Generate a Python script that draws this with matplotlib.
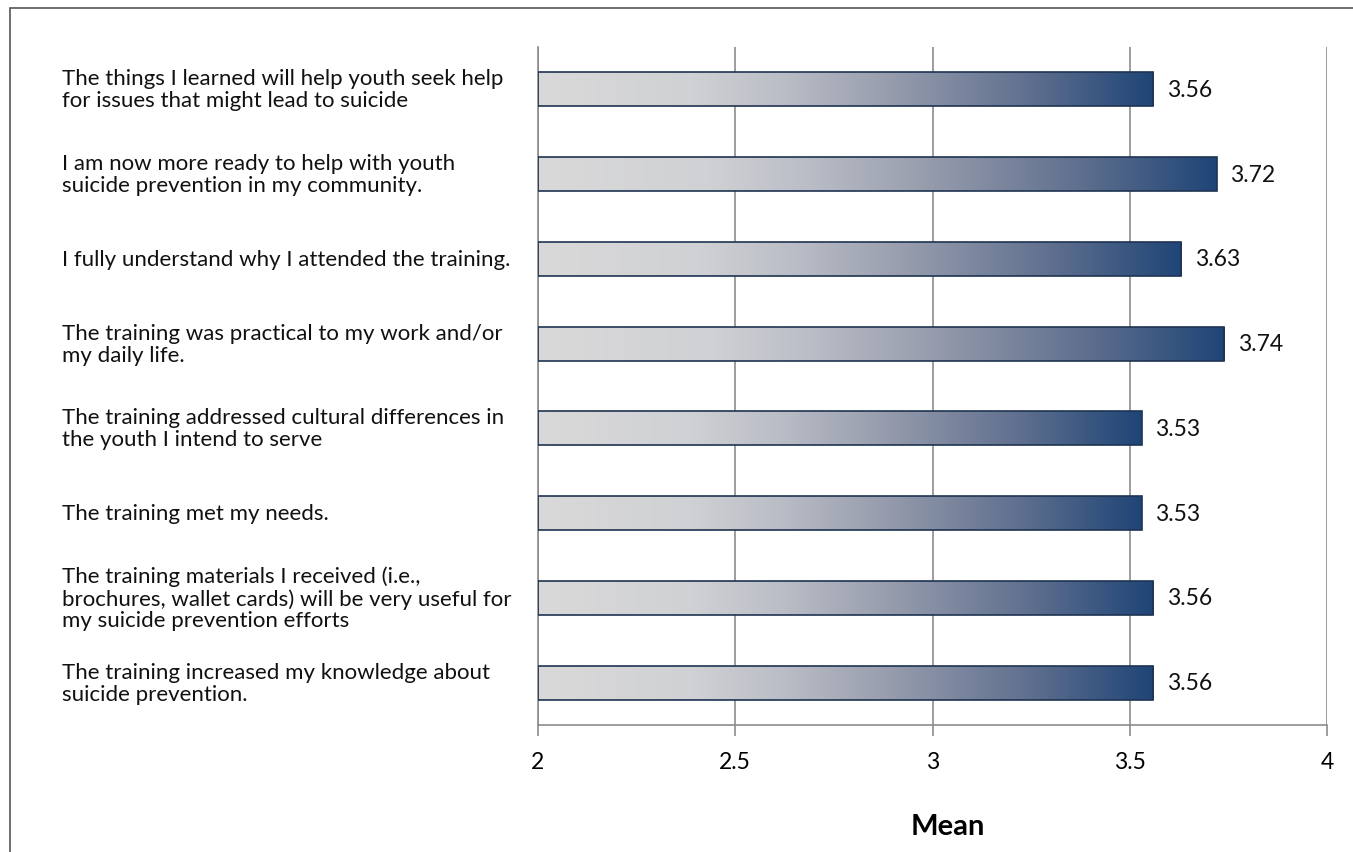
import numpy as np
import matplotlib.pyplot as plt
from matplotlib.colors import LinearSegmentedColormap
from matplotlib.patches import Rectangle
from matplotlib.transforms import blended_transform_factory

# survey items, top to bottom
items = [
    "The things I learned will help youth seek help\nfor issues that might lead to suicide",
    "I am now more ready to help with youth\nsuicide prevention in my community.",
    "I fully understand why I attended the training.",
    "The training was practical to my work and/or\nmy daily life.",
    "The training addressed cultural differences in\nthe youth I intend to serve",
    "The training met my needs.",
    "The training materials I received (i.e.,\nbrochures, wallet cards) will be very useful for\nmy suicide prevention efforts",
    "The training increased my knowledge about\nsuicide prevention.",
]
means = [3.56, 3.72, 3.63, 3.74, 3.53, 3.53, 3.56, 3.56]
x_ticks = [2, 2.5, 3, 3.5, 4]

plt.rcParams['font.family'] = ['Lato', 'DejaVu Sans']

fig = plt.figure(figsize=(13.53, 8.53), dpi=100)
ax = fig.add_axes([538 / 1353, 1 - 726 / 853, (1327 - 538) / 1353, (726 - 48) / 853])

grad = LinearSegmentedColormap.from_list(
    "bar_grad", [(0.0, "#d9d9d9"), (0.25, "#d0d1d4"), (0.4, "#babdc6"),
                 (0.55, "#9ca1b0"), (0.8, "#5f6f8e"), (1.0, "#1f4577")])
ramp = np.linspace(0, 1, 256).reshape(1, -1)

bar_h = 0.4
ypos = np.arange(len(items))
for y, v in zip(ypos, means):
    ax.imshow(ramp, cmap=grad, aspect='auto', interpolation='bilinear',
              extent=[2, v, y + bar_h / 2, y - bar_h / 2], zorder=2)
    ax.barh(y, v - 2, left=2, height=bar_h, facecolor='none',
            edgecolor='#1f3352', linewidth=1.2, zorder=3)
    ax.text(v + 0.035, y, f"{v:.2f}", va='center', ha='left', fontsize=16.5, color='#111111')

ax.set_xlim(2, 4)
ax.set_ylim(len(items) - 0.5, -0.5)
ax.set_xticks(x_ticks)
ax.set_xticklabels([f"{t:g}" for t in x_ticks], fontsize=16.5)
ax.set_yticks([])
ax.tick_params(axis='x', length=8, width=1.2, color='#8c8c8c', pad=11)
ax.grid(axis='x', color='#8c8c8c', linewidth=1.2, zorder=0)
ax.set_axisbelow(True)
for s in ['top', 'right']:
    ax.spines[s].set_visible(False)
for s in ['left', 'bottom']:
    ax.spines[s].set_color('#8c8c8c')
    ax.spines[s].set_linewidth(1.2)
ax.set_xlabel("Mean", fontsize=21, fontweight='bold')
ax.xaxis.set_label_coords(0.52, -0.13)

# question labels, left aligned in the margin
label_tf = blended_transform_factory(fig.transFigure, ax.transData)
for y, txt in zip(ypos, items):
    ax.text(62 / 1353, y, txt, transform=label_tf, fontsize=16,
            ha='left', va='center', linespacing=1.12, color='#111111')

# outer frame
fig.patches.append(Rectangle((10 / 1353, -0.05), 1.2, 1 - 9 / 853 + 0.05,
                             transform=fig.transFigure, fill=False,
                             edgecolor='#555555', linewidth=1.2))

fig.savefig("out.png", dpi=100)
